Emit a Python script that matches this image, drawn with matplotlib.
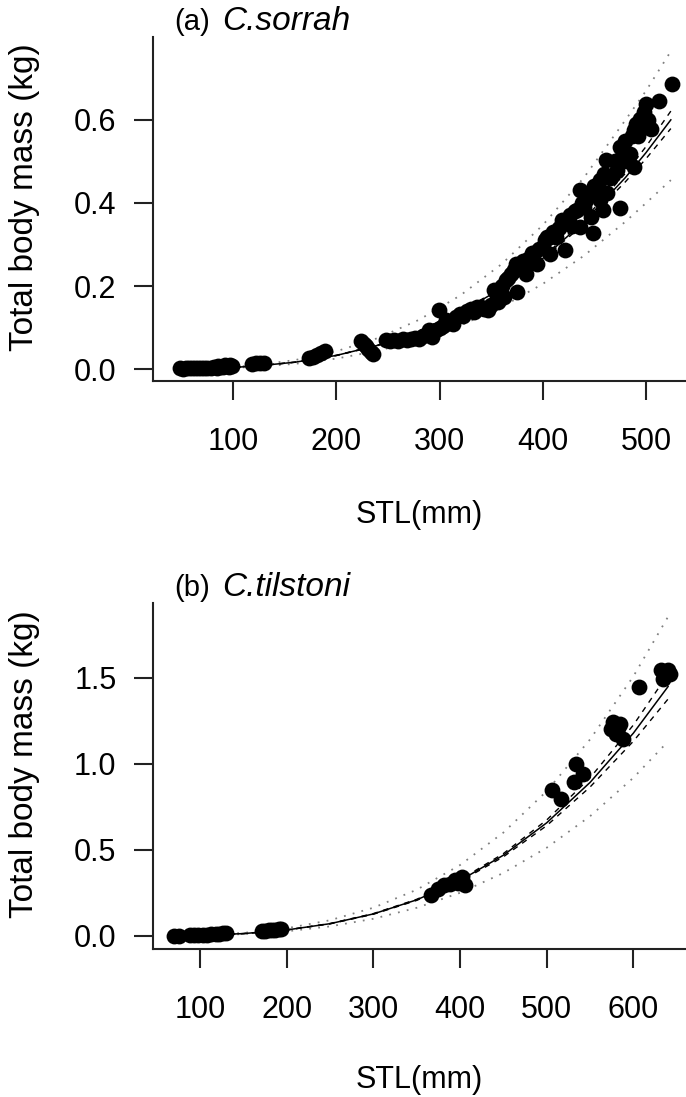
import matplotlib
matplotlib.use("Agg")
import matplotlib.pyplot as plt

plt.rcParams['font.family'] = ['Liberation Sans', 'DejaVu Sans']

# ---------------- Panel (a) C. sorrah ----------------
a_stl = [48, 51, 54, 57, 60, 63, 66, 69, 72, 75, 78, 81, 84, 87, 90, 93, 96, 99, 85, 92, 97,
         118, 122, 126, 130,
         173, 177, 181, 185, 189,
         224, 227, 229, 231, 233, 235,
         248, 252, 256, 260, 264, 268, 272, 276, 280,
         284, 288, 290, 293, 296, 299, 300, 303, 306, 309, 313, 316, 320, 323, 326, 330, 333,
         336, 340, 343, 347, 350, 353, 355, 357, 360, 362, 364, 366, 369, 372, 374, 375, 378,
         381, 384, 386, 389, 391, 394, 396, 400, 402, 404, 407, 407, 410, 413, 416, 419, 421,
         423, 426, 428, 431, 433, 436, 436, 438, 440, 442, 444, 447, 449, 450, 452, 455, 455,
         458, 459, 461, 462, 465, 468, 470, 472, 475, 475, 478, 480, 482, 484, 486, 488, 488,
         490, 492, 494, 496, 498, 500, 502, 505, 513, 525]
a_mass = [0.002, 0.001, 0.002, 0.002, 0.003, 0.002, 0.003, 0.003, 0.004, 0.003, 0.004, 0.005,
          0.004, 0.005, 0.006, 0.007, 0.006, 0.008, 0.008, 0.010, 0.011,
          0.013, 0.014, 0.015, 0.014,
          0.028, 0.030, 0.034, 0.038, 0.044,
          0.068, 0.062, 0.056, 0.049, 0.042, 0.036,
          0.070, 0.068, 0.071, 0.069, 0.072, 0.070, 0.073, 0.075, 0.072,
          0.080, 0.085, 0.094, 0.078, 0.095, 0.142, 0.100, 0.105, 0.118, 0.112, 0.110, 0.125,
          0.134, 0.128, 0.140, 0.146, 0.138,
          0.150, 0.150, 0.145, 0.142, 0.155, 0.190, 0.165, 0.162, 0.200, 0.175, 0.214, 0.220,
          0.230, 0.240, 0.254, 0.186, 0.245,
          0.260, 0.230, 0.265, 0.280, 0.279, 0.254, 0.290, 0.295, 0.310, 0.318, 0.319, 0.278,
          0.330, 0.319, 0.340, 0.360, 0.287,
          0.351, 0.370, 0.345, 0.380, 0.383, 0.431, 0.343, 0.400, 0.390, 0.407, 0.420, 0.367,
          0.327, 0.440, 0.430, 0.407, 0.455,
          0.383, 0.470, 0.504, 0.423, 0.460, 0.467, 0.500, 0.480, 0.387, 0.535, 0.520, 0.550,
          0.500, 0.519, 0.560, 0.575, 0.487,
          0.590, 0.560, 0.603, 0.580, 0.620, 0.639, 0.600, 0.579, 0.646, 0.687]

a_curve_stl = [48, 80, 120, 160, 200, 240, 280, 320, 360, 400, 440, 480, 500, 524]
a_fit = [0.00046, 0.00214, 0.00721, 0.01708, 0.03336, 0.05765, 0.09154, 0.13665,
         0.19456, 0.2669, 0.35524, 0.46119, 0.52128, 0.600]
a_ci_hi = [0.00047, 0.00218, 0.00728, 0.01725, 0.03369, 0.05823, 0.09246, 0.13802,
           0.19651, 0.26957, 0.36057, 0.47134, 0.53588, 0.621]
a_ci_lo = [0.00045, 0.00210, 0.00714, 0.01691, 0.03303, 0.05707, 0.09062, 0.13528,
           0.19261, 0.26423, 0.34991, 0.45104, 0.50668, 0.579]
a_pi_hi = [0.0006, 0.00278, 0.00937, 0.0222, 0.04337, 0.07495, 0.119, 0.17765,
           0.25293, 0.34697, 0.46181, 0.59955, 0.670, 0.765]
a_pi_lo = [0.000355, 0.00165, 0.00555, 0.01315, 0.02569, 0.04439, 0.07049, 0.10522,
           0.14981, 0.20551, 0.27353, 0.35512, 0.400, 0.455]
a_xticks = [100, 200, 300, 400, 500]
a_yticks = [0.0, 0.2, 0.4, 0.6]
a_yticklabels = ["0.0", "0.2", "0.4", "0.6"]

# ---------------- Panel (b) C. tilstoni ----------------
b_stl = [70, 76, 88, 93, 98, 103, 108, 113, 118, 122, 126, 130,
         171, 175, 179, 183, 187, 191, 193,
         366, 374, 382, 388, 394, 398, 402, 406,
         506, 516,
         532, 534, 542,
         574, 576, 580, 584, 588, 582,
         606,
         632, 634, 638, 640, 642]
b_mass = [0.000, 0.002, 0.004, 0.005, 0.006, 0.007, 0.008, 0.010, 0.012, 0.014, 0.016, 0.018,
          0.028, 0.030, 0.032, 0.034, 0.036, 0.038, 0.040,
          0.236, 0.275, 0.295, 0.300, 0.324, 0.310, 0.343, 0.295,
          0.847, 0.798,
          0.895, 1.002, 0.944,
          1.205, 1.244, 1.176, 1.234, 1.147, 1.210,
          1.448,
          1.545, 1.496, 1.520, 1.545, 1.525]

b_curve_stl = [70, 100, 150, 200, 250, 300, 350, 400, 450, 500, 550, 600, 640]
b_fit = [0.00122, 0.00381, 0.01396, 0.03507, 0.07162, 0.12839, 0.21021, 0.32226,
         0.46976, 0.65811, 0.89278, 1.17941, 1.45]
b_ci_hi = [0.00124, 0.00387, 0.01417, 0.0356, 0.0727, 0.13032, 0.21336, 0.32709,
           0.47916, 0.67456, 0.91956, 1.22659, 1.5225]
b_ci_lo = [0.0012, 0.00375, 0.01375, 0.03454, 0.07055, 0.12646, 0.20706, 0.31743,
           0.46036, 0.64166, 0.866, 1.13223, 1.3775]
b_pi_hi = [0.00156, 0.00488, 0.01787, 0.04489, 0.09167, 0.16434, 0.26907, 0.41249,
           0.60129, 0.84238, 1.14276, 1.50964, 1.856]
b_pi_lo = [0.00095, 0.00297, 0.01089, 0.02735, 0.05586, 0.10014, 0.16396, 0.25136,
           0.36641, 0.51333, 0.69637, 0.91994, 1.131]
b_xticks = [100, 200, 300, 400, 500, 600]
b_yticks = [0.0, 0.5, 1.0, 1.5]
b_yticklabels = ["0.0", "0.5", "1.0", "1.5"]

W, H = 686, 1097
fig = plt.figure(figsize=(W / 100, H / 100), dpi=100)

FS = 22
AX_COL = "#222222"


def panel(rect, xs, ys, cx, fit, cilo, cihi, pilo, pihi, xlim, ylim, xticks, yticks, yticklabels):
    ax = fig.add_axes(rect)
    ax.plot(cx, pilo, color="#808080", lw=1.3, linestyle=(0, (1, 4)), zorder=1)
    ax.plot(cx, pihi, color="#808080", lw=1.3, linestyle=(0, (1, 4)), zorder=1)
    ax.plot(cx, cilo, color="black", lw=1.0, linestyle=(0, (4, 4)), zorder=1)
    ax.plot(cx, cihi, color="black", lw=1.0, linestyle=(0, (4, 4)), zorder=1)
    ax.plot(cx, fit, color="black", lw=1.1, zorder=2)
    ax.scatter(xs, ys, s=130, color="black", linewidths=0, zorder=3)
    ax.set_xlim(*xlim)
    ax.set_ylim(*ylim)
    ax.set_xticks(xticks)
    ax.set_xticklabels([str(t) for t in xticks])
    ax.set_yticks(yticks)
    ax.set_yticklabels(yticklabels)
    for s in ("top", "right"):
        ax.spines[s].set_visible(False)
    for s in ("left", "bottom"):
        ax.spines[s].set_linewidth(1.5)
        ax.spines[s].set_color(AX_COL)
    ax.tick_params(axis="both", direction="out", length=14, width=1.5, color=AX_COL,
                   labelsize=FS, labelcolor="black")
    ax.tick_params(axis="y", pad=12)
    ax.tick_params(axis="x", pad=19)
    ax.patch.set_alpha(0)
    return ax


# panel (a): axes spans x 152.7..686 px, y 36.7..381 px
ax1 = panel([152.7 / W, 1 - 381 / H, 1 - 152.7 / W, (381 - 36.7) / H],
            a_stl, a_mass, a_curve_stl, a_fit, a_ci_lo, a_ci_hi, a_pi_lo, a_pi_hi,
            (21.9, 538.7), (-0.0282, 0.800), a_xticks, a_yticks, a_yticklabels)
# panel (b): axes spans x 152.7..686 px, y 603.3..949 px
ax2 = panel([152.7 / W, 1 - 949 / H, 1 - 152.7 / W, (949 - 603.3) / H],
            b_stl, b_mass, b_curve_stl, b_fit, b_ci_lo, b_ci_hi, b_pi_lo, b_pi_hi,
            (45.3, 660.7), (-0.0756, 1.934), b_xticks, b_yticks, b_yticklabels)

# titles
fig.text(174 / W, 1 - 21.7 / H, "(a)", fontsize=21, ha="left", va="center")
fig.text(221.7 / W, 1 - 21.7 / H, "C.sorrah", fontsize=24, style="italic", ha="left", va="center")
fig.text(174 / W, 1 - 588 / H, "(b)", fontsize=21, ha="left", va="center")
fig.text(221.7 / W, 1 - 588 / H, "C.tilstoni", fontsize=24, style="italic", ha="left", va="center")

# axis labels
fig.text(25 / W, 1 - 197 / H, "Total body mass (kg)", fontsize=24,
         rotation=90, ha="center", va="center")
fig.text(25 / W, 1 - 764 / H, "Total body mass (kg)", fontsize=24,
         rotation=90, ha="center", va="center")
fig.text(419 / W, 1 - 515 / H, "STL(mm)", fontsize=FS, ha="center", va="center")
fig.text(419 / W, 1 - 1080 / H, "STL(mm)", fontsize=FS, ha="center", va="center")

fig.savefig("out.png", dpi=100)
